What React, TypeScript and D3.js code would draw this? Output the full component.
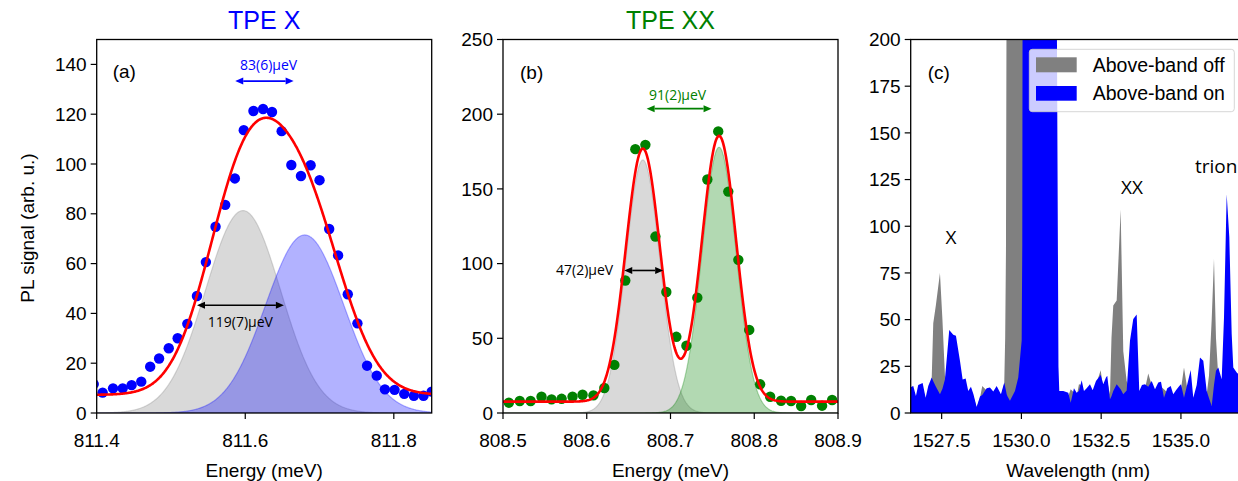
import * as d3 from "d3";

// ---- panel (a): TPE X ----
const energyA = [
  811.396, 811.408, 811.422, 811.435, 811.447, 811.46, 811.472, 811.484, 811.497, 811.509,
  811.522, 811.535, 811.547, 811.56, 811.573, 811.586, 811.598, 811.611, 811.624, 811.636,
  811.649, 811.662, 811.675, 811.688, 811.7, 811.713, 811.725, 811.738, 811.751, 811.764,
  811.777, 811.788, 811.801, 811.814, 811.827, 811.84, 811.851,
];
const signalA = [
  11.6, 8.2, 9.9, 9.9, 11.2, 12.6, 18.6, 21.9, 26, 30, 35.8, 47, 60.6, 74.8, 83.6, 94.2,
  113.6, 121.3, 122.1, 120.9, 113.2, 99.6, 95.2, 99.5, 93.5, 73.9, 63.3, 47.7, 36, 19, 15,
  9.5, 9.3, 7.7, 6.9, 6.9, 8.6,
];
// fitted gaussians: centre (meV), amplitude, FWHM (meV)
const fitCenterA = [811.597, 811.68];
const fitAmpA = [81.3, 71.5];
const fitFwhmA = [0.119, 0.124];
const fitOffsetA = 7.3;

// ---- panel (b): TPE XX ----
const energyB = [
  808.507, 808.52, 808.533, 808.546, 808.558, 808.57, 808.583, 808.595, 808.608, 808.621,
  808.633, 808.646, 808.658, 808.67, 808.682, 808.695, 808.707, 808.719, 808.732, 808.744,
  808.757, 808.769, 808.781, 808.794, 808.807, 808.819, 808.832, 808.844, 808.856, 808.868,
  808.881, 808.893,
];
const signalB = [
  6.9, 8.0, 8.0, 10.9, 9.1, 9.5, 10.9, 12.2, 11.8, 16.7, 32.2, 88.7, 176.6, 179.5, 118.1,
  81, 51, 45, 77.2, 156.3, 188.5, 148.2, 102.5, 55.6, 19.2, 10.9, 8.2, 8.0, 4.7, 8.7, 4.9,
  8.7,
];
const fitCenterB = [808.667, 808.758];
const fitAmpB = [169.4, 177.9];
const fitFwhmB = [0.048, 0.048];
const fitOffsetB = 7.6;

// ---- panel (c): spectra ----
const wavelength = [
  1526.506, 1526.61, 1526.694, 1526.766, 1526.904, 1526.998, 1527.08, 1527.187, 1527.237,
  1527.321, 1527.447, 1527.525, 1527.603, 1527.738, 1527.864, 1527.948, 1528.074, 1528.158,
  1528.252, 1528.334, 1528.418, 1528.497, 1528.597, 1528.701, 1528.773, 1528.911, 1529.014,
  1529.118, 1529.224, 1529.359, 1529.462, 1529.491, 1529.516, 1529.538, 1529.563, 1529.641,
  1529.798, 1529.901, 1530.008, 1530.027, 1530.039, 1530.08, 1530.582, 1531.083, 1531.114,
  1531.161, 1531.187, 1531.312, 1531.469, 1531.544, 1531.647, 1531.732, 1531.804, 1531.889,
  1531.961, 1532.045, 1532.149, 1532.234, 1532.337, 1532.484, 1532.566, 1532.65, 1532.691,
  1532.776, 1532.823, 1532.879, 1532.986, 1533.111, 1533.193, 1533.299, 1533.403, 1533.506,
  1533.613, 1533.694, 1533.779, 1533.873, 1533.976, 1534.083, 1534.187, 1534.29, 1534.375,
  1534.469, 1534.572, 1534.679, 1534.76, 1534.845, 1534.948, 1535.002, 1535.096, 1535.199,
  1535.306, 1535.387, 1535.494, 1535.597, 1535.701, 1535.807, 1535.879, 1535.964, 1536.036,
  1536.099, 1536.171, 1536.277, 1536.35, 1536.434, 1536.516, 1536.591, 1536.641, 1536.748,
  1536.851,
];
const aboveBandOff = [
  11, 12, 8, 12, 14, 7, 12, 18, 48, 58, 75, 50, 20, 14, 12, 12, 14, 16, 15, 10, 12, 9, 3, 8,
  14.5, 12, 12, 10, 13, 9, 15.6, 40, 87, 250, 1200, 1200, 1200, 1200, 1200, 1200, 1000, 500,
  30, 20, 15, 12, 10, 10, 9, 12.7, 11, 9, 15.4, 15, 10, 12, 13, 11, 15, 22.9, 13, 16, 17, 10,
  40, 57.5, 60.2, 109, 33, 17.2, 12, 11, 10, 10, 13, 13, 21.1, 15, 11, 14, 14, 12.7, 11, 12,
  9, 11, 13, 13, 24.4, 13, 15, 7, 13, 20, 18, 10, 20, 50, 82.6, 40, 19, 15, 15, 15, 15, 14,
  14, 14, 14,
];
const aboveBandOn = [
  13.6, 14.5, 9.1, 15, 16, 8.2, 14.5, 19, 17, 14, 10, 13, 18, 44.4, 41.9, 41.4, 28, 18, 18.5,
  11.8, 14, 10, 3.2, 8.8, 9.6, 13.3, 13.6, 11.5, 14.5, 10, 16.3, 14, 12, 10, 9, 6.5, 11.8, 19,
  38.7, 90, 250, 1200, 1200, 1200, 200, 25, 11.8, 11.8, 10.9, 5.5, 13.3, 10.9, 11.8, 17.6,
  11.8, 13.3, 15.4, 12.2, 17.2, 20.4, 15.4, 19, 19.9, 7.4, 9, 11.8, 15.4, 12.7, 10, 12, 38.7,
  50.4, 52.7, 11.8, 15, 15.4, 14, 17.2, 12.7, 16.3, 16.7, 8.2, 13.3, 14.5, 10, 12.2, 14.5,
  15.4, 8.2, 15.4, 23, 8.2, 15, 29.7, 28, 11.8, 8, 3.8, 15, 22.6, 24.4, 18.1, 51.2, 117.2,
  94.2, 42.3, 24.4, 21.7, 20,
];

const xTicksA = [811.4, 811.6, 811.8];
const yTicksA = [0, 20, 40, 60, 80, 100, 120, 140];
const xTicksB = [808.5, 808.6, 808.7, 808.8, 808.9];
const yTicksB = [0, 50, 100, 150, 200, 250];
const xTicksC = [1527.5, 1530.0, 1532.5, 1535.0];
const yTicksC = [0, 25, 50, 75, 100, 125, 150, 175, 200];

const W = 1238;
const H = 481;
const TOP = 39.5;
const BOTTOM = 413;
const PW = 335;
const LEFT = [96.7, 503, 910.7];
const FONT = "'Liberation Sans', Arial, sans-serif";
const NOTE_FONT = "'Open Sans', 'Liberation Sans', sans-serif";

const gauss = (e: number, c: number, a: number, w: number) =>
  a * Math.exp(-4 * Math.LN2 * ((e - c) / w) ** 2);

function Frame({
  id,
  left,
  x,
  y,
  xTicks,
  yTicks,
  xFmt,
  xLabel,
  children,
}: {
  id: string;
  left: number;
  x: d3.ScaleLinear<number, number>;
  y: d3.ScaleLinear<number, number>;
  xTicks: number[];
  yTicks: number[];
  xFmt: (v: number) => string;
  xLabel: string;
  children: React.ReactNode;
}) {
  return (
    <g>
      <defs>
        <clipPath id={id}>
          <rect x={left} y={TOP} width={PW} height={BOTTOM - TOP} />
        </clipPath>
      </defs>
      <g clipPath={`url(#${id})`}>{children}</g>
      <rect
        x={left}
        y={TOP}
        width={PW}
        height={BOTTOM - TOP}
        fill="none"
        stroke="black"
        strokeWidth={1.3}
      />
      {xTicks.map((t) => (
        <g key={t}>
          <line x1={x(t)} x2={x(t)} y1={BOTTOM} y2={BOTTOM + 6} stroke="black" strokeWidth={1.2} />
          <text x={x(t)} y={BOTTOM + 34} textAnchor="middle" fontSize={19} fontFamily={FONT}>
            {xFmt(t)}
          </text>
        </g>
      ))}
      {yTicks.map((t) => (
        <g key={t}>
          <line x1={left - 6} x2={left} y1={y(t)} y2={y(t)} stroke="black" strokeWidth={1.2} />
          <text
            x={left - 10}
            y={y(t)}
            dy="0.35em"
            textAnchor="end"
            fontSize={19}
            fontFamily={FONT}
          >
            {t}
          </text>
        </g>
      ))}
      <text x={left + PW / 2} y={477} textAnchor="middle" fontSize={19} fontFamily={FONT}>
        {xLabel}
      </text>
    </g>
  );
}

function Arrow({
  x1,
  x2,
  y,
  color,
}: {
  x1: number;
  x2: number;
  y: number;
  color: string;
}) {
  const hl = 8;
  const hw = 3.5;
  return (
    <g>
      <line x1={x1 + hl} x2={x2 - hl} y1={y} y2={y} stroke={color} strokeWidth={1.6} />
      <path d={`M${x1},${y}L${x1 + hl},${y - hw}L${x1 + hl},${y + hw}Z`} fill={color} />
      <path d={`M${x2},${y}L${x2 - hl},${y - hw}L${x2 - hl},${y + hw}Z`} fill={color} />
    </g>
  );
}

function FitPanel({
  id,
  left,
  xDomain,
  yMax,
  energy,
  signal,
  centers,
  amps,
  fwhm,
  offset,
  dotColor,
  fillColors,
  xTicks,
  yTicks,
  children,
}: {
  id: string;
  left: number;
  xDomain: [number, number];
  yMax: number;
  energy: number[];
  signal: number[];
  centers: number[];
  amps: number[];
  fwhm: number[];
  offset: number;
  dotColor: string;
  fillColors: string[];
  xTicks: number[];
  yTicks: number[];
  children?: (x: d3.ScaleLinear<number, number>, y: d3.ScaleLinear<number, number>) => React.ReactNode;
}) {
  const x = d3.scaleLinear().domain(xDomain).range([left, left + PW]);
  const y = d3.scaleLinear().domain([0, yMax]).range([BOTTOM, TOP]);
  const grid = d3.range(0, 501).map((i) => xDomain[0] + ((xDomain[1] - xDomain[0]) * i) / 500);
  const comp = (k: number) =>
    d3
      .area<number>()
      .x((e) => x(e))
      .y0(y(0))
      .y1((e) => y(gauss(e, centers[k], amps[k], fwhm[k])))(grid) ?? "";
  const total = d3
    .line<number>()
    .x((e) => x(e))
    .y((e) =>
      y(offset + centers.reduce((s, c, k) => s + gauss(e, c, amps[k], fwhm[k]), 0))
    )(grid) ?? "";
  return (
    <Frame
      id={id}
      left={left}
      x={x}
      y={y}
      xTicks={xTicks}
      yTicks={yTicks}
      xFmt={d3.format(".1f")}
      xLabel="Energy (meV)"
    >
      {centers.map((_, k) => (
        <path
          key={k}
          d={comp(k)}
          fill={fillColors[k]}
          fillOpacity={0.3}
          stroke={fillColors[k]}
          strokeOpacity={0.3}
          strokeWidth={1.2}
        />
      ))}
      {energy.map((e, i) => (
        <circle key={i} cx={x(e)} cy={y(signal[i])} r={5.2} fill={dotColor} />
      ))}
      <path d={total} fill="none" stroke="#ff0000" strokeWidth={2.6} />
      {children && children(x, y)}
    </Frame>
  );
}

function SpectrumPanel() {
  const left = LEFT[2];
  const x = d3.scaleLinear().domain([1526.53, 1537.03]).range([left, left + PW]);
  const y = d3.scaleLinear().domain([0, 200]).range([BOTTOM, TOP]);
  const area = (vals: number[]) =>
    d3
      .area<number>()
      .x((l) => x(l))
      .y0(y(0))
      .y1((_, i) => y(vals[i]))(wavelength) ?? "";
  return (
    <Frame
      id="clipC"
      left={left}
      x={x}
      y={y}
      xTicks={xTicksC}
      yTicks={yTicksC}
      xFmt={d3.format(".1f")}
      xLabel="Wavelength (nm)"
    >
      <path d={area(aboveBandOff)} fill="#808080" />
      <path d={area(aboveBandOn)} fill="#0000ff" />
    </Frame>
  );
}

export default function App() {
  return (
    <svg
      width={W}
      height={H}
      style={{ position: "absolute", left: 0, top: 0, background: "white" }}
    >
      <rect width={W} height={H} fill="white" />
      {/* (a) */}
      <FitPanel
        id="clipA"
        left={LEFT[0]}
        xDomain={[811.4, 811.851]}
        yMax={150}
        energy={energyA}
        signal={signalA}
        centers={fitCenterA}
        amps={fitAmpA}
        fwhm={fitFwhmA}
        offset={fitOffsetA}
        dotColor="#0000ff"
        fillColors={["#808080", "#0000ff"]}
        xTicks={xTicksA}
        yTicks={yTicksA}
      >
        {(x, y) => (
          <g fontFamily={NOTE_FONT} fontSize={14}>
            <Arrow x1={x(811.535)} x2={x(811.652)} y={y(43.3)} color="black" />
            <text x={x(811.5934)} y={y(43.3) + 22} textAnchor="middle" fill="black">
              119(7)μeV
            </text>
            <Arrow x1={x(811.5865)} x2={x(811.6651)} y={y(133.3)} color="#0000ff" />
            <text x={x(811.6314)} y={y(133.3) - 11} textAnchor="middle" fill="#0000ff">
              83(6)μeV
            </text>
          </g>
        )}
      </FitPanel>
      <text x={LEFT[0] + 16} y={78} fontSize={19} fontFamily={FONT}>
        (a)
      </text>
      <text
        transform={`translate(34,228) rotate(-90)`}
        textAnchor="middle"
        fontSize={19}
        fontFamily={FONT}
      >
        PL signal (arb. u.)
      </text>
      <text
        x={LEFT[0] + PW / 2}
        y={29}
        textAnchor="middle"
        fontSize={25}
        fontFamily={FONT}
        fill="#0000ff"
      >
        TPE X
      </text>

      {/* (b) */}
      <FitPanel
        id="clipB"
        left={LEFT[1]}
        xDomain={[808.5, 808.9]}
        yMax={250}
        energy={energyB}
        signal={signalB}
        centers={fitCenterB}
        amps={fitAmpB}
        fwhm={fitFwhmB}
        offset={fitOffsetB}
        dotColor="#008000"
        fillColors={["#808080", "#008000"]}
        xTicks={xTicksB}
        yTicks={yTicksB}
      >
        {(x, y) => (
          <g fontFamily={NOTE_FONT} fontSize={14}>
            <Arrow x1={x(808.6448)} x2={x(808.6913)} y={y(95.4)} color="black" />
            <text x={x(808.6316)} y={y(95.4) + 5} textAnchor="end" fill="black">
              47(2)μeV
            </text>
            <Arrow x1={x(808.6715)} x2={x(808.749)} y={y(203.7)} color="#008000" />
            <text x={x(808.7085)} y={y(203.7) - 9} textAnchor="middle" fill="#008000">
              91(2)μeV
            </text>
          </g>
        )}
      </FitPanel>
      <text x={LEFT[1] + 17} y={79} fontSize={19} fontFamily={FONT}>
        (b)
      </text>
      <text
        x={LEFT[1] + PW / 2}
        y={29}
        textAnchor="middle"
        fontSize={25}
        fontFamily={FONT}
        fill="#008000"
      >
        TPE XX
      </text>

      {/* (c) */}
      <SpectrumPanel />
      <text x={LEFT[2] + 17} y={79} fontSize={19} fontFamily={FONT}>
        (c)
      </text>
      <g fontFamily={NOTE_FONT} fontSize={19}>
        <text x={951} y={244} textAnchor="middle">
          X
        </text>
        <text x={1132} y={194} textAnchor="middle">
          XX
        </text>
        <text x={1195} y={173}>
          trion
        </text>
      </g>
      {/* legend */}
      <g>
        <rect
          x={1029.3}
          y={49.3}
          width={205}
          height={62.4}
          rx={3}
          fill="white"
          fillOpacity={0.8}
          stroke="#cccccc"
          strokeOpacity={0.8}
        />
        <rect x={1036} y={57.3} width={40.7} height={15} fill="#808080" />
        <rect x={1036} y={86} width={40.7} height={14.7} fill="#0000ff" />
        <text x={1092.7} y={72} fontSize={19.5} fontFamily={FONT}>
          Above-band off
        </text>
        <text x={1092.7} y={100.3} fontSize={19.5} fontFamily={FONT}>
          Above-band on
        </text>
      </g>
    </svg>
  );
}
